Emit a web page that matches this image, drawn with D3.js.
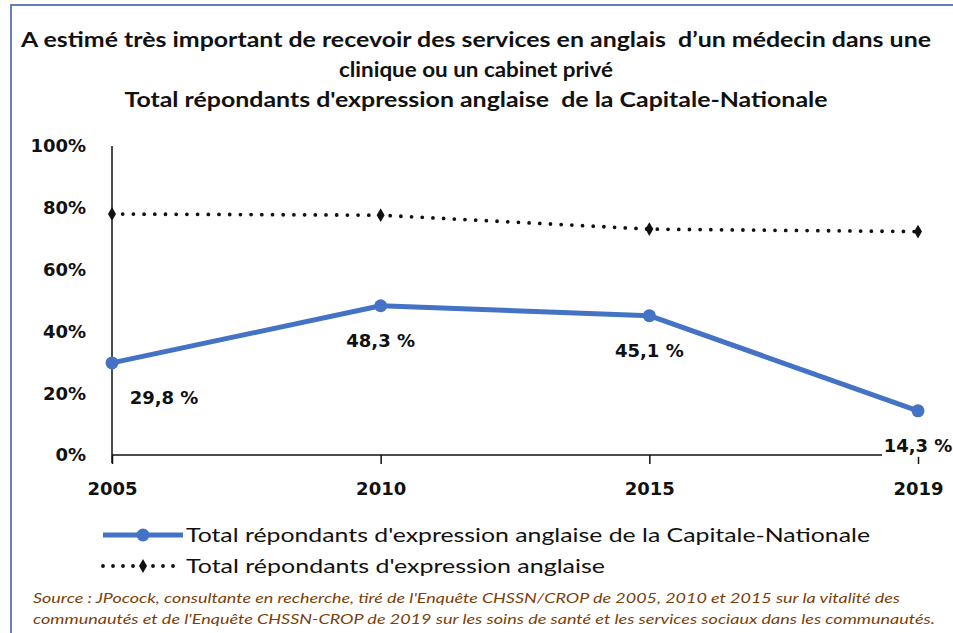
<!DOCTYPE html>
<html>
<head>
<meta charset="utf-8">
<script src="https://cdn.jsdelivr.net/npm/d3@7/dist/d3.min.js"></script>
<style>
  html, body { margin: 0; padding: 0; background: #fff; overflow: hidden; }
  svg { display: block; }
  text { white-space: pre; }
</style>
</head>
<body>
<div id="chart"></div>
<script>
// data
var years = ['2005', '2010', '2015', '2019'];
var capitale = [29.8, 48.3, 45.1, 14.3];
var ensemble = [78.0, 77.6, 73.1, 72.3];
var capitaleLabels = ['29,8 %', '48,3 %', '45,1 %', '14,3 %'];
var yTicks = [0, 20, 40, 60, 80, 100];
var seriesNames = [
  "Total répondants d'expression anglaise de la Capitale-Nationale",
  "Total répondants d'expression anglaise"
];
var titleLines = [
  "A estimé très important de recevoir des services en anglais  d\u2019un médecin dans une",
  "clinique ou un cabinet privé",
  "Total répondants d'expression anglaise  de la Capitale-Nationale"
];
var sourceLines = [
  "Source : JPocock, consultante en recherche, tiré de l'Enquête CHSSN/CROP de 2005, 2010 et 2015 sur la vitalité des",
  "communautés et de l'Enquête CHSSN-CROP de 2019 sur les soins de santé et les services sociaux dans les communautés."
];

var W = 953, H = 633;
var blue = '#4472c4';

var svg = d3.select('#chart').append('svg')
  .attr('width', W)
  .attr('height', H);

// frame (only top and left edges visible)
svg.append('rect')
  .attr('x', 11).attr('y', 5)
  .attr('width', W + 20).attr('height', H + 20)
  .attr('fill', 'none')
  .attr('stroke', '#3d62ad')
  .attr('stroke-width', 1.6);

// title
var titleW = [910, 274, 703];
svg.selectAll('.title').data(titleLines).enter()
  .append('text')
  .attr('class', 'title')
  .attr('x', 476)
  .attr('y', function(d, i) { return 47 + i * 30; })
  .attr('text-anchor', 'middle')
  .attr('textLength', function(d, i) { return titleW[i]; })
  .attr('lengthAdjust', 'spacingAndGlyphs')
  .style('font-family', 'Lato, sans-serif')
  .style('font-weight', 'bold')
  .style('font-size', '20.5px')
  .style('fill', '#111')
  .text(function(d) { return d; });

// scales
var x = d3.scalePoint().domain(years).range([112, 918]).padding(0);
var y = d3.scaleLinear().domain([0, 100]).range([455, 146]);

// y axis line
svg.append('line')
  .attr('x1', x(years[0])).attr('x2', x(years[0]))
  .attr('y1', y(100)).attr('y2', y(0) + 8)
  .attr('stroke', '#111').attr('stroke-width', 1.5);

// y tick labels
svg.selectAll('.ytick').data(yTicks).enter()
  .append('text')
  .attr('class', 'ytick')
  .attr('x', 86)
  .attr('y', function(d) { return y(d); })
  .attr('dy', '0.35em')
  .attr('text-anchor', 'end')
  .style('font-family', 'DejaVu Sans, sans-serif')
  .style('font-weight', 'bold')
  .style('font-size', '18px')
  .style('fill', '#111')
  .text(function(d) { return d + '%'; });

// x axis
var xAxis = svg.append('g')
  .attr('transform', 'translate(0,' + y(0) + ')')
  .call(d3.axisBottom(x).tickSize(9).tickPadding(18));
xAxis.select('.domain').attr('stroke', '#111').attr('stroke-width', 1.5)
  .attr('d', 'M' + x(years[0]) + ',0H' + x(years[years.length - 1]));
xAxis.selectAll('.tick line').attr('stroke', '#111').attr('stroke-width', 1.5);
xAxis.selectAll('.tick text')
  .style('font-family', 'DejaVu Sans, sans-serif')
  .style('font-weight', 'bold')
  .style('font-size', '18px')
  .style('fill', '#111');

// dotted series
var line = d3.line()
  .x(function(d, i) { return x(years[i]); })
  .y(function(d) { return y(d); });

svg.append('path')
  .datum(ensemble)
  .attr('d', line)
  .attr('fill', 'none')
  .attr('stroke', '#111')
  .attr('stroke-width', 3.8)
  .attr('stroke-linecap', 'round')
  .attr('stroke-dasharray', '0,10.7');

svg.selectAll('.dmark').data(ensemble).enter()
  .append('path')
  .attr('class', 'dmark')
  .attr('transform', function(d, i) { return 'translate(' + x(years[i]) + ',' + y(d) + ')'; })
  .attr('d', d3.symbol().type(d3.symbolDiamond).size(55))
  .attr('fill', '#111');

// blue series
svg.append('path')
  .datum(capitale)
  .attr('d', line)
  .attr('fill', 'none')
  .attr('stroke', blue)
  .attr('stroke-width', 5)
  .attr('stroke-linejoin', 'round');

svg.selectAll('.bmark').data(capitale).enter()
  .append('circle')
  .attr('class', 'bmark')
  .attr('cx', function(d, i) { return x(years[i]); })
  .attr('cy', function(d) { return y(d); })
  .attr('r', 6.5)
  .attr('fill', blue);

// data labels (below points)
var lbl = svg.selectAll('.dlabel').data(capitale).enter()
  .append('g')
  .attr('class', 'dlabel')
  .attr('transform', function(d, i) {
    var cx = i === 0 ? x(years[i]) + 52 : x(years[i]);
    return 'translate(' + cx + ',' + (y(d) + 35) + ')';
  });
lbl.filter(function(d, i) { return i === years.length - 1; })
  .append('rect')
  .attr('x', -36).attr('y', -11).attr('width', 72).attr('height', 22)
  .attr('fill', '#fff');
lbl.append('text')
  .attr('text-anchor', 'middle')
  .attr('dy', '0.35em')
  .style('font-family', 'DejaVu Sans, sans-serif')
  .style('font-weight', 'bold')
  .style('font-size', '18px')
  .style('fill', '#111')
  .text(function(d, i) { return capitaleLabels[i]; });

// legend
var legW = [684, 419];
var leg = svg.selectAll('.leg').data(seriesNames).enter()
  .append('g')
  .attr('class', 'leg')
  .attr('transform', function(d, i) { return 'translate(103,' + (535 + i * 31) + ')'; });
leg.filter(function(d, i) { return i === 0; }).each(function() {
  var g = d3.select(this);
  g.append('line').attr('x1', 0).attr('x2', 80).attr('y1', 0).attr('y2', 0)
    .attr('stroke', blue).attr('stroke-width', 5);
  g.append('circle').attr('cx', 40).attr('cy', 0).attr('r', 6.5).attr('fill', blue);
});
leg.filter(function(d, i) { return i === 1; }).each(function() {
  var g = d3.select(this);
  g.append('line').attr('x1', 0).attr('x2', 80).attr('y1', 0).attr('y2', 0)
    .attr('stroke', '#111').attr('stroke-width', 3.8)
    .attr('stroke-linecap', 'round').attr('stroke-dasharray', '0,10');
  g.append('path').attr('transform', 'translate(40,0)')
    .attr('d', d3.symbol().type(d3.symbolDiamond).size(55)).attr('fill', '#111');
});
leg.append('text')
  .attr('x', 83)
  .attr('dy', '0.35em')
  .attr('textLength', function(d, i) { return legW[i]; })
  .attr('lengthAdjust', 'spacingAndGlyphs')
  .style('font-family', 'Lato, sans-serif')
  .style('font-size', '19px')
  .style('fill', '#111')
  .text(function(d) { return d; });

// source
var srcW = [867, 902];
svg.selectAll('.src').data(sourceLines).enter()
  .append('text')
  .attr('class', 'src')
  .attr('x', 33)
  .attr('y', function(d, i) { return 603 + i * 21; })
  .attr('textLength', function(d, i) { return srcW[i]; })
  .attr('lengthAdjust', 'spacingAndGlyphs')
  .style('font-family', 'Lato, sans-serif')
  .style('font-style', 'italic')
  .style('font-size', '14px')
  .style('fill', '#7b3f0a')
  .text(function(d) { return d; });
</script>
</body>
</html>
